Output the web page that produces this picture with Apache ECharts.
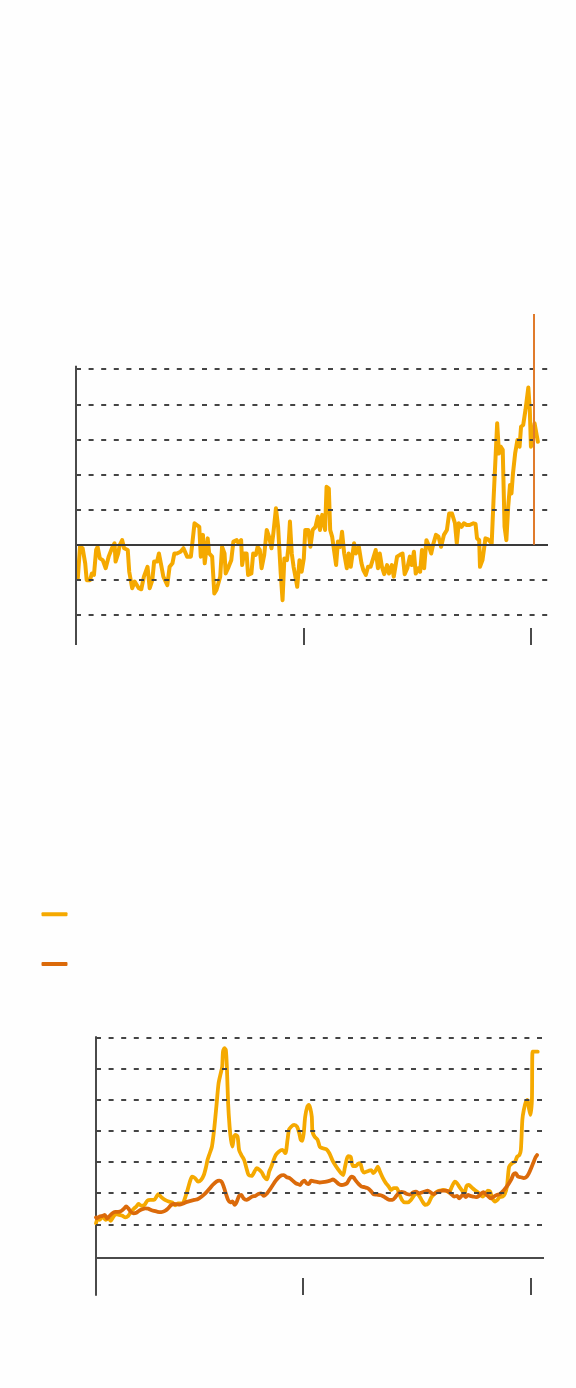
<!DOCTYPE html>
<html>
<head>
<meta charset="utf-8">
<script src="https://cdn.jsdelivr.net/npm/echarts@6/dist/echarts.min.js"></script>
<style>
html,body{margin:0;padding:0;background:#fefefe;}
#chart{width:576px;height:1388px;}
</style>
</head>
<body>
<div id="chart"></div>
<script>
// ---------- Top chart data ----------
const topYears = [1980.16,1980.35,1980.58,1980.81,1980.94,1981.23,1981.39,1981.58,1981.77,1981.90,1982.10,1982.35,1982.61,1982.87,1983.16,1983.39,1983.48,1983.71,1983.84,1984.06,1984.23,1984.55,1984.68,1984.94,1985.16,1985.32,1985.52,1985.74,1985.97,1986.29,1986.48,1986.71,1986.87,1987.13,1987.29,1987.52,1987.68,1988.03,1988.23,1988.48,1988.65,1988.87,1989.19,1989.45,1989.77,1990.10,1990.42,1990.84,1990.97,1991.16,1991.32,1991.58,1991.71,1991.97,1992.16,1992.35,1992.52,1992.68,1992.84,1993.06,1993.16,1993.42,1993.65,1993.84,1994.13,1994.29,1994.52,1994.61,1994.77,1995.00,1995.13,1995.42,1995.58,1995.81,1995.97,1996.16,1996.32,1996.55,1996.77,1996.97,1997.19,1997.35,1997.58,1997.77,1998.00,1998.16,1998.32,1998.55,1998.68,1998.81,1998.97,1999.13,1999.32,1999.45,1999.65,1999.84,2000.03,2000.16,2000.42,2000.61,2000.81,2001.06,2001.26,2001.45,2001.65,2001.90,2002.03,2002.23,2002.35,2002.52,2002.68,2002.87,2003.03,2003.23,2003.39,2003.58,2003.81,2003.97,2004.16,2004.45,2004.61,2004.87,2005.10,2005.26,2005.48,2005.68,2005.90,2006.13,2006.35,2006.55,2006.71,2006.90,2007.10,2007.35,2007.52,2007.77,2007.94,2008.10,2008.23,2008.48,2008.71,2008.90,2009.13,2009.35,2009.52,2009.71,2009.87,2010.10,2010.26,2010.42,2010.61,2010.81,2011.00,2011.23,2011.39,2011.65,2011.87,2012.10,2012.35,2012.61,2012.81,2013.06,2013.32,2013.48,2013.65,2013.90,2014.10,2014.35,2014.61,2014.94,2015.13,2015.26,2015.45,2015.52,2015.74,2015.90,2016.00,2016.23,2016.55,2016.71,2017.03,2017.19,2017.35,2017.52,2017.68,2017.84,2018.00,2018.16,2018.29,2018.42,2018.61,2018.81,2019.00,2019.13,2019.32,2019.52,2019.77,2019.90,2020.00,2020.16,2020.32,2020.48,2020.61];
const topValues = [-0.96,-0.06,-0.10,-0.53,-1.01,-1.01,-0.82,-0.86,-0.15,-0.06,-0.39,-0.44,-0.67,-0.34,-0.10,0.04,-0.48,-0.25,-0.01,0.13,-0.10,-0.15,-0.77,-1.24,-1.05,-1.01,-1.24,-1.27,-0.91,-0.63,-1.24,-1.01,-0.48,-0.48,-0.25,-0.63,-0.91,-1.15,-0.63,-0.53,-0.25,-0.25,-0.20,-0.10,-0.34,-0.34,0.61,0.51,-0.34,0.28,-0.53,0.18,-0.25,-0.34,-1.39,-1.29,-1.10,-0.91,-0.06,-0.25,-0.82,-0.63,-0.44,0.09,0.13,0.04,0.13,-0.58,-0.25,-0.25,-0.86,-0.82,-0.25,-0.29,-0.06,-0.15,-0.67,-0.29,0.42,0.23,-0.10,0.32,1.04,0.51,-0.82,-1.58,-0.39,-0.44,-0.06,0.66,-0.25,-0.63,-0.96,-1.20,-0.44,-0.77,-0.39,0.42,0.42,-0.06,0.42,0.51,0.80,0.42,0.85,0.42,1.65,1.60,0.42,0.23,0.28,-0.58,0.09,-0.06,0.37,-0.25,-0.67,-0.25,-0.63,0.04,-0.25,-0.06,-0.53,-0.72,-0.86,-0.63,-0.63,-0.39,-0.15,-0.67,-0.25,-0.63,-0.84,-0.58,-0.82,-0.58,-0.91,-0.96,-0.34,-0.29,-0.25,-0.84,-0.67,-0.34,-0.58,-0.20,-0.82,-0.67,-0.77,-0.15,-0.67,0.13,-0.01,-0.25,-0.01,0.28,0.23,-0.06,0.28,0.42,0.89,0.89,0.61,0.04,0.61,0.51,0.61,0.56,0.56,0.61,0.59,0.18,0.13,-0.63,-0.44,-0.44,0.18,0.15,0.04,1.27,3.46,2.60,2.79,2.70,0.51,0.13,1.08,1.70,1.46,2.03,2.60,2.98,2.79,3.36,3.41,3.84,4.48,3.84,2.79,2.98,3.46,3.46,2.93];
const topGridValues = [-2, -1, 1, 2, 3, 4, 5];
const topTickYears = [1980, 2000, 2020];
const eventYear = 2020.24;
const eventTop = 6.57;

// ---------- Bottom chart data ----------
const aYears = [1981.84,1981.97,1982.16,1982.42,1982.68,1982.93,1983.13,1983.38,1983.64,1983.90,1984.16,1984.41,1984.67,1984.93,1985.19,1985.38,1985.57,1985.83,1986.09,1986.35,1986.60,1986.93,1987.18,1987.31,1987.57,1987.89,1988.21,1988.53,1988.79,1989.05,1989.31,1989.50,1989.69,1989.89,1990.08,1990.27,1990.53,1990.79,1991.05,1991.30,1991.50,1991.62,1991.82,1992.01,1992.20,1992.40,1992.59,1992.78,1992.91,1992.98,1993.10,1993.23,1993.33,1993.43,1993.56,1993.68,1993.81,1993.94,1994.07,1994.26,1994.39,1994.59,1994.84,1995.04,1995.23,1995.49,1995.74,1995.94,1996.19,1996.39,1996.58,1996.84,1997.03,1997.22,1997.42,1997.61,1997.87,1998.19,1998.45,1998.64,1998.77,1998.96,1999.22,1999.48,1999.67,1999.80,1999.93,2000.06,2000.19,2000.38,2000.51,2000.64,2000.77,2000.83,2001.02,2001.28,2001.47,2001.73,2002.05,2002.31,2002.57,2002.82,2003.08,2003.34,2003.53,2003.66,2003.86,2003.98,2004.18,2004.37,2004.63,2004.82,2005.01,2005.21,2005.40,2005.59,2005.79,2005.98,2006.17,2006.37,2006.56,2006.75,2007.01,2007.27,2007.52,2007.72,2007.97,2008.23,2008.42,2008.68,2008.94,2009.20,2009.46,2009.71,2009.97,2010.23,2010.48,2010.74,2011.00,2011.26,2011.51,2011.77,2012.03,2012.29,2012.55,2012.80,2013.06,2013.32,2013.51,2013.70,2013.96,2014.15,2014.35,2014.54,2014.80,2015.06,2015.25,2015.51,2015.76,2016.02,2016.21,2016.41,2016.60,2016.86,2017.05,2017.24,2017.50,2017.70,2017.89,2018.08,2018.34,2018.60,2018.79,2018.98,2019.11,2019.24,2019.37,2019.56,2019.69,2019.82,2019.95,2020.08,2020.14,2020.33,2020.59];
const aValues = [1.03,1.16,1.14,1.25,1.14,1.19,1.11,1.25,1.33,1.30,1.27,1.22,1.27,1.41,1.51,1.57,1.65,1.59,1.62,1.76,1.78,1.78,1.91,1.97,1.87,1.78,1.73,1.70,1.61,1.67,1.67,1.70,1.89,2.12,2.37,2.53,2.48,2.37,2.42,2.58,2.85,3.06,3.28,3.49,4.03,4.78,5.52,5.84,6.06,6.54,6.65,6.59,5.95,4.88,4.13,3.71,3.49,3.81,3.87,3.81,3.39,3.22,3.06,2.80,2.58,2.55,2.69,2.80,2.74,2.66,2.53,2.44,2.69,2.85,3.06,3.22,3.33,3.39,3.28,3.71,4.03,4.13,4.19,4.13,3.92,3.71,3.68,3.92,4.45,4.78,4.83,4.72,4.45,3.97,3.81,3.71,3.49,3.44,3.41,3.28,3.06,2.90,2.76,2.64,2.58,2.80,3.12,3.19,3.17,2.87,2.87,2.94,2.96,2.72,2.66,2.69,2.72,2.74,2.64,2.72,2.85,2.69,2.48,2.32,2.21,2.10,2.16,2.16,1.99,1.78,1.70,1.70,1.78,1.91,1.99,1.89,1.73,1.62,1.67,1.87,1.97,2.05,2.08,2.10,2.08,2.02,2.21,2.37,2.32,2.21,2.08,1.99,2.23,2.26,2.18,2.10,2.05,1.97,1.89,1.99,2.08,2.05,1.83,1.73,1.78,1.87,1.89,1.97,2.21,2.85,2.96,3.01,3.17,3.22,3.39,4.35,4.67,4.94,4.99,4.72,4.51,4.99,6.54,6.54,6.54];
const bYears = [1981.84,1981.90,1982.16,1982.42,1982.61,1982.81,1983.00,1983.26,1983.51,1983.77,1984.03,1984.29,1984.48,1984.67,1984.87,1985.12,1985.38,1985.64,1985.90,1986.15,1986.41,1986.67,1986.93,1987.25,1987.57,1987.89,1988.15,1988.41,1988.66,1988.92,1989.18,1989.50,1989.82,1990.14,1990.47,1990.79,1991.11,1991.43,1991.75,1992.07,1992.40,1992.65,1992.85,1993.04,1993.23,1993.43,1993.62,1993.81,1994.01,1994.20,1994.39,1994.59,1994.78,1995.04,1995.29,1995.55,1995.81,1996.07,1996.32,1996.58,1996.84,1997.10,1997.35,1997.61,1997.87,1998.13,1998.32,1998.58,1998.83,1999.09,1999.35,1999.54,1999.74,1999.93,2000.12,2000.31,2000.51,2000.70,2000.96,2001.22,2001.47,2001.73,2002.05,2002.37,2002.63,2002.89,2003.15,2003.40,2003.66,2003.86,2004.05,2004.24,2004.43,2004.63,2004.89,2005.14,2005.40,2005.66,2005.92,2006.17,2006.49,2006.82,2007.07,2007.33,2007.59,2007.85,2008.10,2008.36,2008.62,2008.88,2009.13,2009.39,2009.65,2009.91,2010.16,2010.42,2010.68,2010.94,2011.19,2011.45,2011.71,2011.97,2012.22,2012.48,2012.74,2013.00,2013.25,2013.51,2013.70,2013.90,2014.09,2014.28,2014.48,2014.67,2014.93,2015.18,2015.44,2015.64,2015.83,2016.02,2016.21,2016.47,2016.73,2016.99,2017.24,2017.50,2017.76,2018.02,2018.27,2018.47,2018.66,2018.85,2019.11,2019.37,2019.63,2019.82,2020.01,2020.21,2020.40,2020.53];
const bValues = [1.22,1.19,1.25,1.27,1.30,1.19,1.25,1.35,1.40,1.40,1.42,1.50,1.57,1.51,1.41,1.35,1.37,1.44,1.48,1.51,1.50,1.46,1.43,1.40,1.39,1.43,1.50,1.61,1.65,1.64,1.63,1.67,1.72,1.75,1.78,1.81,1.89,1.99,2.12,2.26,2.37,2.40,2.37,2.21,1.99,1.78,1.70,1.73,1.62,1.73,1.91,1.94,1.83,1.78,1.83,1.89,1.91,1.97,1.99,1.91,1.99,2.12,2.26,2.40,2.51,2.57,2.58,2.51,2.48,2.40,2.32,2.29,2.26,2.35,2.40,2.32,2.29,2.40,2.38,2.36,2.34,2.35,2.37,2.40,2.44,2.37,2.29,2.26,2.28,2.32,2.44,2.53,2.50,2.40,2.29,2.21,2.19,2.16,2.08,1.97,1.95,1.93,1.89,1.83,1.78,1.78,1.87,1.99,2.04,2.02,1.97,1.95,2.02,2.05,1.99,2.02,2.05,2.08,2.02,1.97,2.02,2.06,2.08,2.08,2.06,1.97,1.89,1.91,1.83,1.91,1.94,1.87,1.94,1.91,1.89,1.87,1.91,1.99,2.03,1.97,1.91,1.83,1.89,1.94,1.97,2.05,2.16,2.29,2.44,2.61,2.64,2.53,2.51,2.48,2.53,2.64,2.80,2.98,3.15,3.22];
const bottomGridValues = [1, 2, 3, 4, 5, 6, 7];
const bottomBaseline = -0.09;
const bottomTickYears = [2000, 2020];

// ---------- styles ----------
const YELLOW = '#F5A900';
const ORANGE = '#DB6A0A';
const EVENT = '#E07B2C';
const GRID = '#444444';
const AXIS = '#4a4a4a';
const dotted = { color: GRID, width: 2, type: [5, 7.6], dashOffset: 0 };

const zip = (xs, ys) => xs.map((x, i) => [x, ys[i]]);

const chart = echarts.init(document.getElementById('chart'), null, { renderer: 'canvas' });

const hiddenY = (extra) => Object.assign({
  type: 'value', axisLine: { show: false }, axisTick: { show: false },
  axisLabel: { show: false }, splitLine: { show: false }
}, extra);

const xTicksAxis = (extra, ticks) => Object.assign({
  type: 'value',
  axisLine: { show: false, onZero: false },
  axisLabel: { show: false }, splitLine: { show: false },
  axisTick: { show: true, inside: true, length: 17, customValues: ticks, lineStyle: { color: AXIS, width: 2 } }
}, extra);

const option = {
  animation: false,
  backgroundColor: '#fefefe',
  grid: [
    { left: 76, right: 28, top: 300, bottom: 743 },
    { left: 96, right: 32, top: 1037, bottom: 93 }
  ],
  xAxis: [
    xTicksAxis({ gridIndex: 0, min: 1980, max: 2021.5, position: 'bottom' }, topTickYears),
    xTicksAxis({ gridIndex: 1, min: 1981.84, max: 2021.14, position: 'bottom' }, bottomTickYears)
  ],
  yAxis: [
    hiddenY({ gridIndex: 0, min: -2.857, max: 6.97 }),
    hiddenY({ gridIndex: 1, min: -1.27, max: 7.01,
      axisLine: { show: true, onZero: false, lineStyle: { color: AXIS, width: 2 } } })
  ],
  legend: {
    data: ['A', 'B'],
    orient: 'vertical',
    left: 41.5, top: 912.3,
    padding: 0,
    itemWidth: 26, itemHeight: 4, itemGap: 45.7,
    icon: 'roundRect',
    formatter: () => '',
    textStyle: { fontSize: 4, lineHeight: 4 },
    selectedMode: false
  },
  series: [
    // top chart: reference lines
    { type: 'line', xAxisIndex: 0, yAxisIndex: 0, data: [], z: 1, silent: true,
      markLine: { symbol: ['none', 'none'], silent: true, animation: false, label: { show: false },
        emphasis: { disabled: true },
        data: topGridValues.map(v => ({ yAxis: v, lineStyle: dotted }))
          .concat([{ yAxis: 0, lineStyle: { color: '#3a3a3a', width: 2, type: 'solid' } }])
          .concat([[{ coord: [1980, -2.82], lineStyle: { color: AXIS, width: 2, type: 'solid' } }, { coord: [1980, 5.10] }]])
      } },
    { name: 'top', type: 'line', xAxisIndex: 0, yAxisIndex: 0, z: 3,
      data: zip(topYears, topValues), showSymbol: false, symbol: 'none',
      lineStyle: { color: YELLOW, width: 4, join: 'round', cap: 'round' },
      markLine: { symbol: ['none', 'none'], silent: true, animation: false, label: { show: false },
        emphasis: { disabled: true },
        data: [[{ coord: [eventYear, 0], lineStyle: { color: EVENT, width: 2, type: 'solid' } }, { coord: [eventYear, eventTop] }]] } },
    // bottom chart: reference lines
    { type: 'line', xAxisIndex: 1, yAxisIndex: 1, data: [], z: 1, silent: true,
      markLine: { symbol: ['none', 'none'], silent: true, animation: false, label: { show: false },
        emphasis: { disabled: true },
        data: bottomGridValues.map(v => ({ yAxis: v, lineStyle: dotted }))
          .concat([{ yAxis: bottomBaseline, lineStyle: { color: AXIS, width: 2, type: 'solid' } }])
      } },
    { name: 'A', type: 'line', xAxisIndex: 1, yAxisIndex: 1, z: 3,
      data: zip(aYears, aValues), showSymbol: false, symbol: 'none', smooth: 0.25,
      itemStyle: { color: YELLOW },
      lineStyle: { color: YELLOW, width: 3.8, join: 'round', cap: 'round' } },
    { name: 'B', type: 'line', xAxisIndex: 1, yAxisIndex: 1, z: 4,
      data: zip(bYears, bValues), showSymbol: false, symbol: 'none', smooth: 0.25,
      itemStyle: { color: ORANGE },
      lineStyle: { color: ORANGE, width: 3.8, join: 'round', cap: 'round' } }
  ]
};
chart.setOption(option);
</script>
</body>
</html>
